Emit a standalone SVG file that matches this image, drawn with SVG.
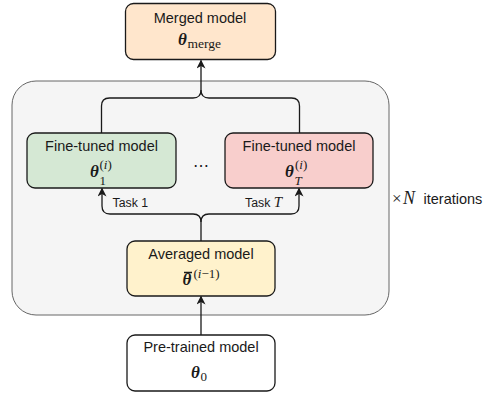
<svg xmlns="http://www.w3.org/2000/svg" width="484" height="394" viewBox="0 0 484 394">
<defs>
<style>
.box{stroke:#1a1a1a;stroke-width:1.3}
.lbl{font-family:"Liberation Sans",Arial,sans-serif;font-size:14.5px;fill:#1a1a1a;text-anchor:middle}
.th{font-family:"Liberation Serif","DejaVu Serif",serif;font-size:17px;font-weight:bold;font-style:italic;fill:#1a1a1a}
.sub{font-family:"Liberation Serif","DejaVu Serif",serif;font-size:13px;fill:#1a1a1a}
.it{font-style:italic}
.edge{fill:none;stroke:#1a1a1a;stroke-width:1.3}
.small{font-family:"Liberation Sans",Arial,sans-serif;font-size:12.3px;fill:#1a1a1a}
</style>
<marker id="arr" viewBox="0 0 10 10" refX="9" refY="5" markerWidth="9" markerHeight="9" markerUnits="userSpaceOnUse" orient="auto">
<path d="M0,0 L10,5 L0,10 L3,5 z" fill="#1a1a1a"/>
</marker>
</defs>
<g id="iteration-loop">
<rect x="12" y="81" width="377" height="234" rx="24" fill="#f5f5f5" stroke="#666" stroke-width="1"/>
<text x="392" y="204" class="sub" style="font-size:17px">×</text>
<text x="403" y="204" class="sub it" style="font-size:18px">N</text>
<text x="423.5" y="204" class="small" style="font-size:14.5px">iterations</text>
</g>
<g id="connectors">
<path class="edge" d="M101.5,133 V106 Q101.5,98 109.5,98 H193 Q201,98 201,90 V60.5" marker-end="url(#arr)"/>
<path class="edge" d="M299.5,133 V106 Q299.5,98 291.5,98 H209 Q201,98 201,90"/>
<path class="edge" d="M201,241 V222 Q201,214 193,214 H110 Q102,214 102,206 V188.5" marker-end="url(#arr)"/>
<path class="edge" d="M201,222 Q201,214 209,214 H291 Q299,214 299,206 V188.5" marker-end="url(#arr)"/>
<path class="edge" d="M201,335 V296.5" marker-end="url(#arr)"/>
<text x="112.5" y="207" class="small">Task 1</text>
<text x="245" y="207" class="small">Task <tspan class="sub it" style="font-size:15px">T</tspan></text>
</g>
<g id="merged">
<rect class="box" x="125.5" y="3.5" width="150" height="56" rx="8" fill="#ffe6cc"/>
<text x="200" y="23" class="lbl">Merged model</text>
<text x="178" y="45" class="th">θ</text>
<text x="187.5" y="47.5" class="sub" style="font-size:13.5px">merge</text>
</g>
<g id="finetuned-1">
<rect class="box" x="27" y="133" width="149" height="55" rx="8" fill="#d5e8d4"/>
<text x="101.5" y="151" class="lbl">Fine-tuned model</text>
<text x="90" y="177" class="th">θ</text>
<text x="99.5" y="185" class="sub">1</text>
<text x="99.5" y="169" class="sub">(<tspan class="it">i</tspan>)</text>
</g>
<g id="dots">
<text x="201" y="171" class="sub" style="font-size:16px;text-anchor:middle">⋯</text>
</g>
<g id="finetuned-T">
<rect class="box" x="225" y="133" width="148" height="55" rx="8" fill="#f8cecc"/>
<text x="299" y="151" class="lbl">Fine-tuned model</text>
<text x="285" y="177" class="th">θ</text>
<text x="294.5" y="185" class="sub it">T</text>
<text x="295" y="169" class="sub">(<tspan class="it">i</tspan>)</text>
</g>
<g id="averaged">
<rect class="box" x="127" y="241" width="148" height="55" rx="8" fill="#fff2cc"/>
<text x="201" y="259" class="lbl">Averaged model</text>
<line x1="184" y1="272.5" x2="192" y2="272.5" stroke="#1a1a1a" stroke-width="1.5"/>
<text x="182.5" y="285" class="th">θ</text>
<text x="193.5" y="277.5" class="sub">(<tspan class="it">i</tspan>−1)</text>
</g>
<g id="pretrained">
<rect class="box" x="127" y="335" width="148" height="56" rx="8" fill="#ffffff"/>
<text x="201" y="352" class="lbl">Pre-trained model</text>
<text x="191" y="378" class="th">θ</text>
<text x="200.5" y="381" class="sub">0</text>
</g>
</svg>
